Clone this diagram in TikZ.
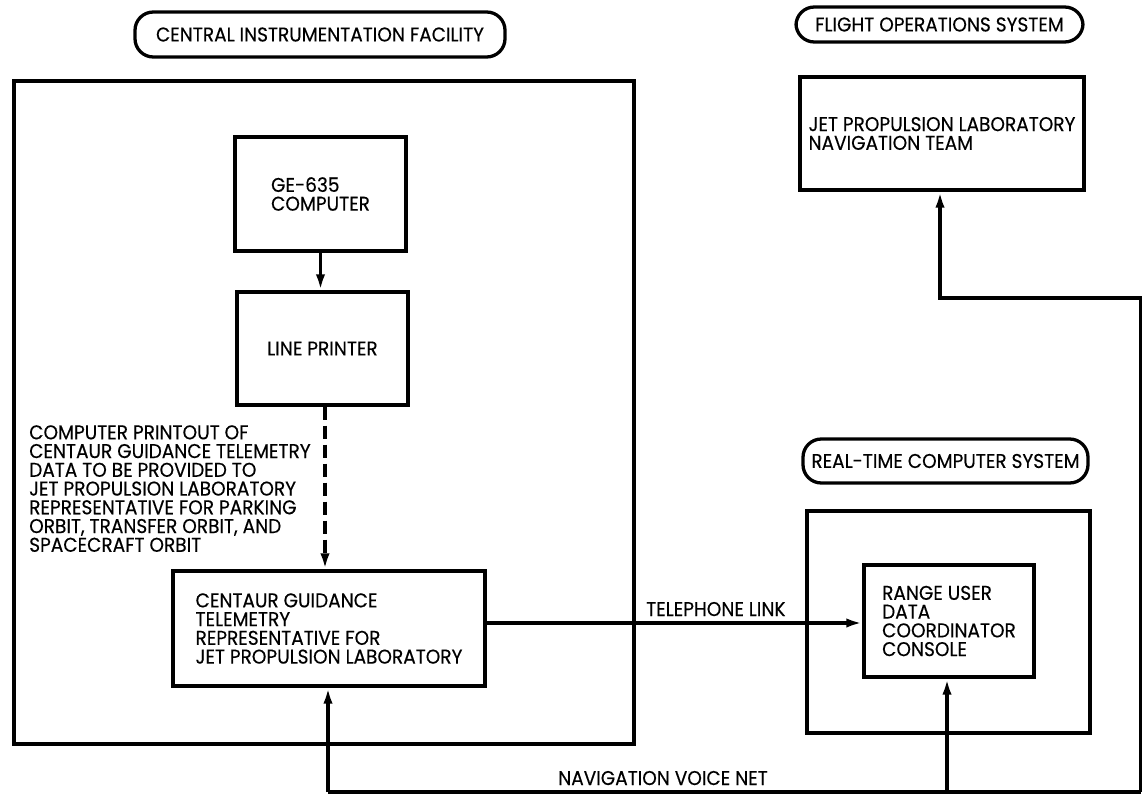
\documentclass[tikz,border=0pt]{standalone}
\usepackage{fontspec}
\setmainfont{Poppins}[FakeStretch=0.93,FakeBold=0.3]
\usetikzlibrary{arrows.meta}
\begin{document}
\begin{tikzpicture}[x=0.03cm,y=-0.03cm,
  txt/.style={font=\fontsize{17pt}{16pt}\selectfont, inner sep=0pt},
  boxnode/.style={txt, draw, line width=2.8pt, align=left},
  frame/.style={draw, line width=2.8pt, inner sep=0pt},
  pill/.style={txt, draw, line width=2.8pt, rounded corners=0.55cm},
  wire/.style={line width=3pt},
  arr/.style={line width=3pt, -{Latex[length=0.48cm,width=0.28cm]}},
  dasharr/.style={arr, dash pattern=on 0.39cm off 0.18cm}]
\useasboundingbox (0,0) rectangle (1143,794);
\fill[white] (0,0) rectangle (1143,794);

% group frames and labels
\node[frame, minimum width=18.6cm, minimum height=19.89cm] (cif) at (324,412.5) {};
\node[frame, minimum width=8.49cm, minimum height=6.66cm] (rtcs) at (948.5,622) {};
\node[pill, minimum width=11.1cm, minimum height=1.35cm] (cifl) at (320,34.5) {CENTRAL INSTRUMENTATION FACILITY};
\node[pill, minimum width=8.61cm, minimum height=1.05cm] (fosl) at (939.5,24.5) {FLIGHT OPERATIONS SYSTEM};
\node[pill, minimum width=8.55cm, minimum height=1.32cm] (rtcsl) at (945.5,461) {REAL-TIME COMPUTER SYSTEM};

% boxes
\node[boxnode, minimum width=5.13cm, minimum height=3.42cm] (ge) at (320.5,194) {GE-635\\COMPUTER};
\node[boxnode, minimum width=5.13cm, minimum height=3.39cm] (lp) at (322.5,348.5) {LINE PRINTER};
\node[boxnode, minimum width=9.36cm, minimum height=3.45cm] (cent) at (329,628.5) {CENTAUR GUIDANCE\\TELEMETRY\\REPRESENTATIVE FOR\\JET PROPULSION LABORATORY};
\node[boxnode, minimum width=8.52cm, minimum height=3.39cm] (jpl) at (942,133.5) {JET PROPULSION LABORATORY\\NAVIGATION TEAM};
\node[boxnode, minimum width=5.1cm, minimum height=3.36cm] (rudc) at (949,621) {RANGE USER\\DATA\\COORDINATOR\\CONSOLE};

% annotation texts
\node[txt, anchor=north west, align=left] (note) at (29,425) {COMPUTER PRINTOUT OF\\CENTAUR GUIDANCE TELEMETRY\\DATA TO BE PROVIDED TO\\JET PROPULSION LABORATORY\\REPRESENTATIVE FOR PARKING\\ORBIT, TRANSFER ORBIT, AND\\SPACECRAFT ORBIT};
\node[txt, anchor=base west] (tel) at (646,616) {TELEPHONE LINK};
\node[txt, anchor=base west] (nav) at (558,785) {NAVIGATION VOICE NET};

% connectors
\draw[arr] (ge.south) -- (ge.south |- lp.north);
\coordinate (d0) at (325,0);
\draw[dasharr] (lp.south -| d0) -- (cent.north -| d0);
\coordinate (t0) at (485,623);
\draw[arr] (cent.east |- t0) -- (rudc.west |- t0);

\coordinate (bL) at (328,792);
\coordinate (bM) at (947,792);
\coordinate (bR) at (1140.5,792);
\coordinate (r1) at (1140.5,298);
\coordinate (r2) at (940,298);
\draw[wire] (bL) -- (bR);
\draw[arr] (bL) -- (bL |- cent.south);
\draw[arr] (bM) -- (bM |- rudc.south);
\draw[arr] (bR) -- (r1) -- (r2) -- (r2 |- jpl.south);
\end{tikzpicture}
\end{document}
